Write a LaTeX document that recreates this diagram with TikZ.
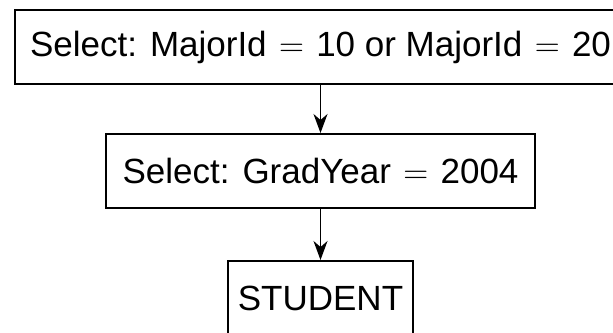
\documentclass[tikz,border=0pt]{standalone}
\usepackage{fontspec}
\setmainfont{Liberation Sans}
\usetikzlibrary{arrows.meta}
\newcommand{\eqsign}{\hspace{1.3pt}$=$\hspace{1.3pt}}
\begin{document}
\begin{tikzpicture}[x=0.5pt,y=-0.5pt]
	\tikzstyle{op} = [rectangle, draw, line width=1pt, minimum height=37pt, inner sep=0pt, font=\fontsize{17.5}{21}\selectfont]
	\tikzstyle{rel} = [op, minimum width=92.5pt]
	\tikzstyle{edge} = [line width=0.75pt, >={Stealth[length=9.5pt, width=7pt, inset=3pt]}]
\def\midx{320.5}
\def\layerpos{47}
\def\step{124}

\clip (0,0) rectangle (613,332);

%select operations
\node[op, minimum width=305.5pt] (sel_major) at (\midx, \layerpos) {Select: MajorId \eqsign{} 10 or MajorId \eqsign{} 20};
\pgfmathsetmacro{\layerpos}{\layerpos + \step}
\node[op, minimum width=214.5pt] (sel_year) at (\midx, \layerpos) {Select: GradYear \eqsign{} 2004};

%base relation
\pgfmathsetmacro{\layerpos}{\layerpos + \step + 3}
\node[rel] (student) at (\midx, \layerpos) {STUDENT};

\foreach \from/\to in {sel_major/sel_year, sel_year/student}
	\draw[edge, ->] (\from) -- (\to);
\end{tikzpicture}
\end{document}
